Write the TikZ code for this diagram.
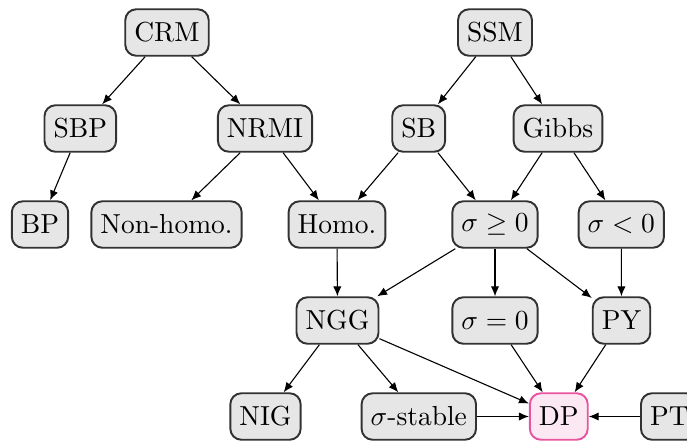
\documentclass[tikz,border=0pt]{standalone}
\usetikzlibrary{arrows.meta}
\definecolor{boxfill}{RGB}{230,230,230}
\definecolor{boxdraw}{RGB}{50,50,50}
\definecolor{dpfill}{RGB}{252,232,242}
\definecolor{dpdraw}{RGB}{231,84,160}
\begin{document}
\begin{tikzpicture}[x=0.3636pt,y=-0.3636pt,
  box/.style={draw=boxdraw,fill=boxfill,line width=0.7pt,rounded corners=4pt,
    inner xsep=3.3pt,inner ysep=0pt,minimum height=16.9pt},
  dpbox/.style={box,draw=dpdraw,fill=dpfill},
  arr/.style={-{Latex[length=3.6pt,width=3pt]},line width=0.4pt,black}]
\useasboundingbox (0,0) rectangle (687,441);
\node[box] (CRM) at (167,32.5) {CRM};
\node[box] (SSM) at (495,32.5) {SSM};
\node[box] (SBP) at (80.3,128.5) {SBP};
\node[box] (NRMI) at (265,128.5) {NRMI};
\node[box] (SB) at (418.7,128.5) {SB};
\node[box] (Gibbs) at (558,128.5) {Gibbs};
\node[box] (BP) at (40,224.5) {BP};
\node[box] (NH) at (166.5,224.5) {Non-homo.};
\node[box] (H) at (337,224.5) {Homo.};
\node[box] (SGE) at (495,224.5) {$\sigma \geq 0$};
\node[box] (SL) at (621.3,224.5) {$\sigma < 0$};
\node[box] (NGG) at (337.5,320.5) {NGG};
\node[box] (SE) at (495,320.5) {$\sigma = 0$};
\node[box] (PY) at (621.5,320.5) {PY};
\node[box] (NIG) at (265.5,416.5) {NIG};
\node[box] (SS) at (418.8,416.5) {$\sigma$-stable};
\node[dpbox] (DP) at (558.8,416.5) {DP};
\node[box,anchor=west] (PT) at (640,416.5) {PT};
\draw[arr] (CRM) -- (SBP);
\draw[arr] (CRM) -- (NRMI);
\draw[arr] (SBP) -- (BP);
\draw[arr] (NRMI) -- (NH);
\draw[arr] (NRMI) -- (H);
\draw[arr] (SSM) -- (SB);
\draw[arr] (SSM) -- (Gibbs);
\draw[arr] (SB) -- (H);
\draw[arr] (SB) -- (SGE);
\draw[arr] (Gibbs) -- (SGE);
\draw[arr] (Gibbs) -- (SL);
\draw[arr] (H) -- (NGG);
\draw[arr] (SGE) -- (NGG);
\draw[arr] (SGE) -- (SE);
\draw[arr] (SGE) -- (PY);
\draw[arr] (SL) -- (PY);
\draw[arr] (NGG) -- (NIG);
\draw[arr] (NGG) -- (SS);
\draw[arr] (NGG) -- (DP);
\draw[arr] (SE) -- (DP);
\draw[arr] (PY) -- (DP);
\draw[arr] (SS) -- (DP);
\draw[arr] (PT) -- (DP);
\end{tikzpicture}
\end{document}
